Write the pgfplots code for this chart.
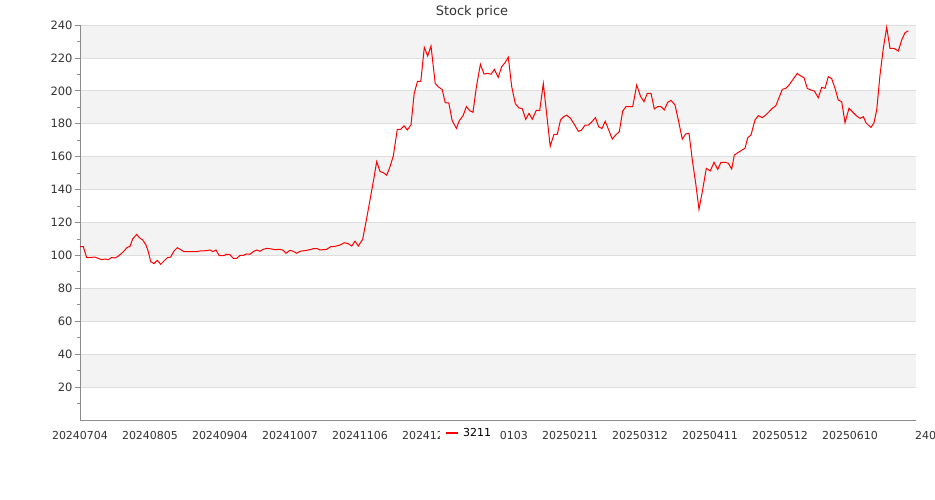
\documentclass[border=0pt]{standalone}
\usepackage{pgfplots}
\pgfplotsset{compat=1.18}
\usepackage{fontspec}
\setmainfont{DejaVu Sans}
\definecolor{bandgray}{RGB}{243,243,243}
\definecolor{gridgray}{RGB}{222,222,222}
\definecolor{axisgray}{RGB}{140,140,140}
\definecolor{labelgray}{RGB}{51,51,51}
\begin{document}
\begin{tikzpicture}
\begin{axis}[
  at={(80pt,80pt)}, anchor=south west,
  width=836pt, height=395pt, scale only axis,
  xmin=80, xmax=916, ymin=0, ymax=240,
  set layers,
  axis x line*=bottom, axis y line*=left,
  axis line style={axisgray, line width=0.8pt},
  xtick={80,150,220,290,360,430,500,570,640,710,780,850},
  xticklabels={20240704,20240805,20240904,20241007,20241106,20241206,20250103,20250211,20250312,20250411,20250512,20250610},
  x tick label style={font=\fontsize{11}{11}\selectfont, text=labelgray, yshift=-3pt},
  xtick style={draw=none},
  ytick={20,40,...,240},
  minor ytick={10,30,...,230},
  tick align=outside,
  major tick length=5pt, minor tick length=3pt,
  ytick style={axisgray, line width=0.8pt},
  minor tick style={axisgray, line width=0.8pt},
  y tick label style={font=\fontsize{11.5}{11.5}\selectfont, text=labelgray, xshift=1pt},
  /pgf/number format/assume math mode=true,
  ymajorgrids, major grid style={gridgray, line width=0.8pt},
  legend style={at={(0.4306,-0.033)}, anchor=west, fill=white, draw=none,
    font=\fontsize{11}{11}\selectfont, inner xsep=5pt, inner ysep=2pt,
    /tikz/every even column/.append style={column sep=4pt},
    nodes={inner xsep=4pt, text=black}},
  legend image code/.code={\draw[red, line width=2pt] (0pt,0pt) -- (12pt,0pt);},
]
\begin{pgfonlayer}{axis background}
\fill[bandgray] (axis cs:80,220) rectangle (axis cs:916,240);
\fill[bandgray] (axis cs:80,180) rectangle (axis cs:916,200);
\fill[bandgray] (axis cs:80,140) rectangle (axis cs:916,160);
\fill[bandgray] (axis cs:80,100) rectangle (axis cs:916,120);
\fill[bandgray] (axis cs:80,60) rectangle (axis cs:916,80);
\fill[bandgray] (axis cs:80,20) rectangle (axis cs:916,40);
\end{pgfonlayer}
\addplot[red, line width=1pt] coordinates {
(80,105.3) (83.3,105.3) (86.7,98.6) (91.7,98.8) (95,99) (98.3,98.2) (101.7,97.4) (105,97.8) (108.3,97.4) (111.7,98.8)
(115,98.4) (118.3,99.6) (121.7,101.3) (125,103.3) (127,104.8) (130,105.5) (132.7,110) (136.7,112.8) (139.3,110.8) (142.7,109.4)
(146,106.3) (148.3,102.3) (150.7,96.2) (154,95) (157.3,97) (160.7,94.6) (164,96.6) (167.3,98.6) (170.7,99) (174,102.7)
(177.3,104.7) (180.7,103.5) (184,102.3) (190,102.3) (196.7,102.3) (200,102.7) (206.7,102.9) (210,103.3) (212.7,102.3) (216,103.3)
(219.3,99.8) (223.3,99.8) (226.7,100.7) (230,100.4) (233.3,98.2) (236.7,98.2) (240,100) (243.3,100) (246.7,100.9) (250,100.7)
(253.3,102.3) (256.7,103.3) (260,102.5) (263.3,103.7) (266.7,104.3) (271.7,103.9) (275,103.5) (280,103.7) (283.3,103.1) (286,101.3)
(290,103.1) (293.3,102.5) (296.7,101.3) (300,102.5) (306.7,103.1) (310,103.5) (313.3,104.1) (317.3,104.1) (320,103.3) (326.7,103.7)
(330.7,105.3) (335,105.5) (340,106.3) (344.3,107.7) (348.3,107.1) (351.7,105.7) (355,108.6) (358.3,105.7) (362.7,109.8) (366.5,122)
(370,133.7) (373.5,145.5) (376.7,157) (380,151) (383.3,150.3) (386.7,148.7) (390,153.9) (393.3,160.4) (397.3,176.6) (400.7,176.6)
(404,178.8) (407.3,176.2) (411,179.4) (414.2,198.5) (417.5,205.7) (420.8,205.7) (424.3,226.4) (427.7,221.2) (431,227.2) (435.2,204.5)
(438.5,202.3) (442.2,200.8) (445.2,192.8) (448.8,192.6) (452.2,181.8) (456.4,177.2) (459.3,181.9) (463,184.8) (466.4,190.4) (469.7,187.9)
(473,187) (476.4,202.5) (480.4,216.1) (484,210.2) (487.3,210.6) (491,210.1) (494.4,213) (498.2,208.2) (501.7,214.7) (505,217.1)
(508.3,220.4) (511.7,202.5) (515.3,192.2) (518.7,189.7) (522.3,189.1) (525.7,182.7) (529,186.3) (532.3,182.7) (536.3,188.2) (539.7,188)
(543.3,204.5) (550.2,166.3) (554,173.6) (557.3,173.6) (560.5,182.3) (563.7,184.3) (566.7,185.2) (570.5,183.3) (574.3,179.6) (578.3,175.4)
(581.3,176) (585,179.1) (588.3,179.1) (591.7,181.1) (595.4,183.7) (598.7,178.1) (602,177.1) (605.2,181.5) (612.3,170.7) (615.7,173.2)
(619.3,175.2) (622.7,187.7) (626,190.4) (629.3,190.4) (632.7,190.4) (636.7,203.5) (640.7,196.4) (644,193.4) (647.3,198.5) (651,198.5)
(654.3,189) (657.7,190.4) (661,190.4) (664.3,188.4) (667.7,193) (671,194.2) (675,191.4) (678.3,182.3) (682.3,170.6) (685.7,173.8)
(689,174.2) (692.3,158) (695.7,143.8) (699,128) (702.3,138.7) (706.3,152.9) (710.3,151.3) (714,156.6) (717.7,152.3) (721,156.6)
(725,156.6) (728.3,156) (731.7,152.5) (734.3,161) (738.3,162.6) (741.7,163.9) (745,165.1) (747.7,171.5) (751,173.2) (755,182.3)
(758.3,184.9) (762.3,183.7) (765.7,185.3) (769,187.3) (772.3,189.4) (775.7,190.8) (779,195.8) (782.3,200.9) (785.7,201.5) (789,203.5)
(793.3,207.2) (797.3,210.6) (800.7,209) (804,208) (807.3,201.5) (810.7,200.5) (814.3,199.9) (818.3,195.8) (821.7,202.1) (825,201.5)
(828.3,208.6) (831.7,207.4) (835,201.5) (838.3,194.4) (841.7,193.4) (845,180.6) (849,189.4) (853.3,186.7) (856.7,184.7) (860,183.3)
(863.3,184.3) (866,180.6) (868.3,179.2) (871,177.8) (874,180.6) (876.7,188.4) (880,209.6) (883.3,225.8) (886.7,238.6) (890,225.8)
(894,225.8) (898.3,224.2) (901.7,230.9) (905,235.3) (908.3,236.5)
};
\addlegendentry{3211}
\end{axis}
\node[anchor=center, font=\fontsize{13}{13}\selectfont, text=labelgray] at (472pt,488pt) {Stock price};
\node[anchor=north west, inner xsep=0pt, inner ysep=0.333em, font=\fontsize{11}{11}\selectfont, text=labelgray] at (915pt,72pt) {240};
\pgfresetboundingbox
\useasboundingbox (0pt,0pt) rectangle (935pt,500pt);
\end{tikzpicture}
\end{document}
